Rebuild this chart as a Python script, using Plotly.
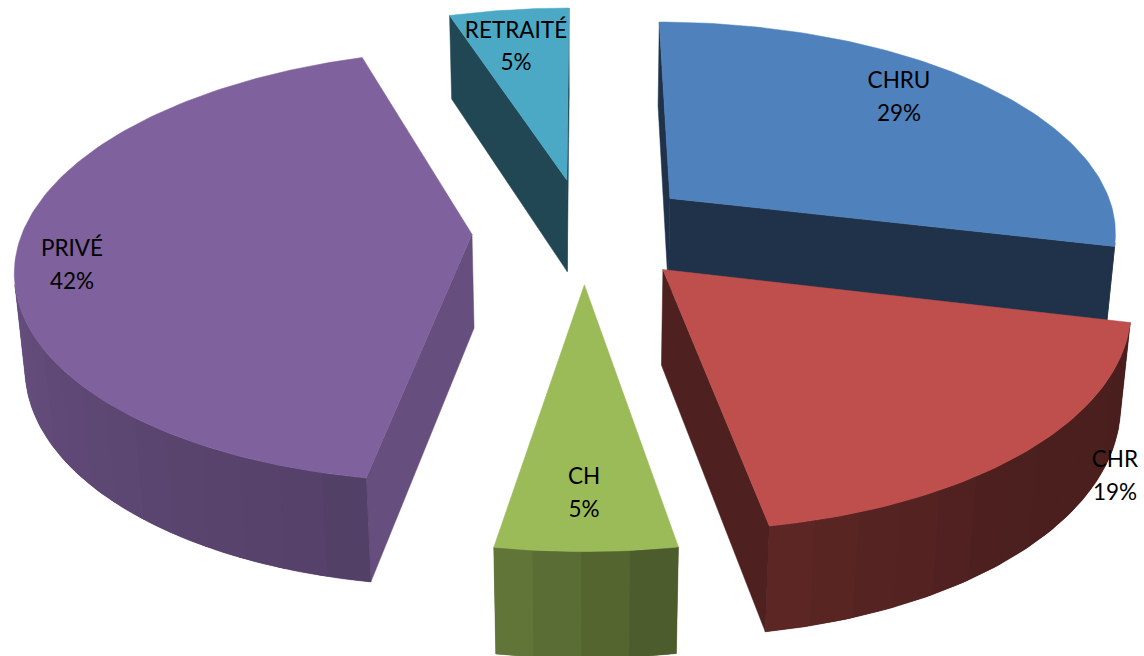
import numpy as np
import plotly.graph_objects as go

categories = ["CHRU", "CHR", "CH", "PRIVÉ", "RETRAITÉ"]
shares = [28.7, 18.55, 5.4, 42.3, 5.05]
top_colors = ["#4F81BD", "#BE4F4C", "#9BBB59", "#7F619D", "#4BA9C5"]
wall_shades = [0.39, 0.41, 0.6, 0.8, 0.42]
label_x = [899, 1115, 584, 72, 516]
name_y = [82, 461, 478, 250, 32]
pct_y = [115, 494, 511, 283, 64]

# projection of the 3D pie (style parameters)
CX, CY, F = 584.0, 230.3, 441.0
SIN_T, COS_T, DIST = 0.469, 0.883, 6.2
HEIGHT, EXPLODE, RADIUS = 0.245, 0.254, 1.018
BAND = 5.0
shade_angles = [100, 140, 172, 190, 270, 360]
shade_values = [0.38, 0.40, 0.49, 0.65, 0.83, 0.85]


def project(x, y, drop):
    w = 1 - y * COS_T / DIST + drop * SIN_T / DIST
    return CX + F * x / w, CY + F * (y * SIN_T + drop * COS_T) / w


def hex_scale(col, k):
    r, g, b = (int(col[i:i + 2], 16) for i in (1, 3, 5))
    return f"rgb({r * k:.0f},{g * k:.0f},{b * k:.0f})"


def polygon(px, py, color, lw=0.5):
    return go.Scatter(x=list(px) + [px[0]], y=list(py) + [py[0]], mode="lines", fill="toself",
                      fillcolor=color, line=dict(color=color, width=lw),
                      hoverinfo="skip", showlegend=False)


def is_visible(u, v):
    p = [project(*u, 0), project(*v, 0), project(*v, HEIGHT), project(*u, HEIGHT)]
    area = sum(p[i][0] * p[(i + 1) % 4][1] - p[(i + 1) % 4][0] * p[i][1] for i in range(4))
    return area < 0


def wall(points, color, lw=0.5):
    top = [project(*p, 0) for p in points]
    bot = [project(*p, HEIGHT) for p in reversed(points)]
    px, py = zip(*(top + bot))
    return polygon(px, py, color, lw)


total = sum(shares)
edges = np.cumsum([0] + shares) / total * 360.0
slices = []
for i, name in enumerate(categories):
    a0, a1 = edges[i], edges[i + 1]
    mid = np.radians((a0 + a1) / 2)
    ox, oy = EXPLODE * np.sin(mid), -EXPLODE * np.cos(mid)
    slices.append((oy, i, a0, a1, ox))

traces = []
for oy, i, a0, a1, ox in sorted(slices):
    n = max(4, int((a1 - a0) / 1.0))
    angs = np.linspace(a0, a1, n + 1)
    rim = [(ox + RADIUS * np.sin(t), oy - RADIUS * np.cos(t)) for t in np.radians(angs)]
    apex = (ox, oy)
    col = top_colors[i]
    # flat radial walls
    for u, v in ((apex, rim[0]), (rim[-1], apex)):
        if is_visible(u, v):
            traces.append(wall([u, v], hex_scale(col, wall_shades[i])))
    # curved outer wall, painted as overlapping shaded bands
    vis = [j for j in range(n) if is_visible(rim[j], rim[j + 1])]
    if vis:
        mean_k = float(np.interp((angs[vis[0]] + angs[vis[-1] + 1]) / 2, shade_angles, shade_values))
        traces.append(wall(rim[vis[0]:vis[-1] + 2], hex_scale(col, mean_k)))
    bands = {}
    for j in vis:
        bands.setdefault(int(((angs[j] + angs[j + 1]) / 2) // BAND), []).append(j)
    for b, idx in bands.items():
        k = float(np.interp((b + 0.5) * BAND, shade_angles, shade_values))
        last = min(idx[-1] + 2, vis[-1] + 1)
        traces.append(wall(rim[idx[0]:last + 1], hex_scale(col, k), 0))
    tx, ty = zip(*[project(x, y, 0) for x, y in [apex] + rim])
    traces.append(polygon(tx, ty, col))

pct_labels = [f"{round(s)}%" for s in shares]
font = dict(family="Lato", size=22.5, color="#000000")
for ys, texts in ((name_y, categories), (pct_y, pct_labels)):
    traces.append(go.Scatter(x=label_x, y=ys, mode="text", text=texts, textposition="middle center",
                             textfont=font, hoverinfo="skip", showlegend=False))

fig = go.Figure(traces)
fig.update_layout(width=1144, height=656, margin=dict(l=0, r=0, t=0, b=0),
                  paper_bgcolor="white", plot_bgcolor="white", showlegend=False,
                  xaxis=dict(range=[0, 1144], visible=False),
                  yaxis=dict(range=[656, 0], visible=False))
fig.write_html("out.html", config=dict(displayModeBar=False),
               post_script="document.body.style.margin='0';")
